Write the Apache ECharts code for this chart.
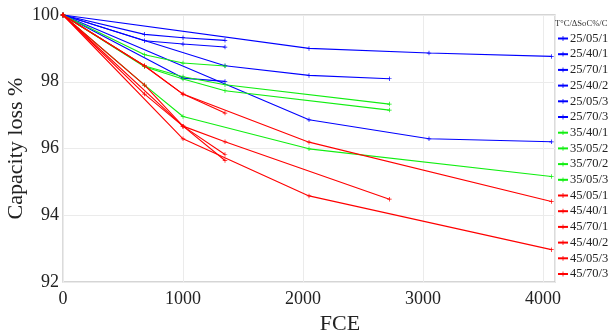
<!DOCTYPE html>
<html>
<head>
<meta charset="utf-8">
<script src="https://cdn.jsdelivr.net/npm/echarts@6/dist/echarts.min.js"></script>
<style>
  html, body { margin: 0; padding: 0; background: #fff; }
  #chart { width: 614px; height: 336px; }
</style>
</head>
<body>
<div id="chart"></div>
<script>
// Test conditions: temperature / SoC window / C-rate
const seriesNames = [
  '25/05/1', '25/40/1', '25/70/1', '25/40/2', '25/05/3', '25/70/3',
  '35/40/1', '35/05/2', '35/70/2', '35/05/3',
  '45/05/1', '45/40/1', '45/70/1', '45/40/2', '45/05/3', '45/70/3'
];
const seriesColors = [
  '#0000ff', '#0000ff', '#0000ff', '#0000ff', '#0000ff', '#0000ff',
  '#11ee11', '#11ee11', '#11ee11', '#11ee11',
  '#ff0000', '#ff0000', '#ff0000', '#ff0000', '#ff0000', '#ff0000'
];
// Full equivalent cycles at each checkup
const fcePoints = [
  [0, 2050, 3050, 4070],
  [0, 1350, 2050, 2720],
  [0, 680, 1000, 1350],
  [0, 680, 1000, 1350],
  [0, 2050, 3050, 4070],
  [0, 1000, 1350],
  [0, 680, 1000, 1350, 2720],
  [0, 680, 1000, 1350, 2720],
  [0, 680, 1000, 1350],
  [0, 680, 1000, 2050, 4070],
  [0, 680, 1000, 2050, 4070],
  [0, 680, 1000, 1350, 2720],
  [0, 680, 1000, 1350],
  [0, 680, 1000, 1350],
  [0, 1000, 2050, 4070],
  [0, 1000, 1350]
];
// Remaining capacity (%) at each checkup
const capacityValues = [
  [100, 99.0, 98.86, 98.76],
  [100, 98.48, 98.19, 98.09],
  [100, 99.42, 99.32, 99.24],
  [100, 99.23, 99.13, 99.04],
  [100, 96.86, 96.29, 96.2],
  [100, 98.11, 98.01],
  [100, 98.47, 98.15, 97.91, 97.33],
  [100, 98.45, 98.08, 97.73, 97.15],
  [100, 98.81, 98.56, 98.47],
  [100, 97.9, 96.96, 95.99, 95.16],
  [100, 98.47, 97.63, 96.19, 94.41],
  [100, 97.9, 96.67, 96.2, 94.48],
  [100, 98.48, 97.63, 97.06],
  [100, 97.63, 96.67, 95.82],
  [100, 96.29, 94.58, 92.97],
  [100, 96.67, 95.64]
];
const xTicks = [0, 1000, 2000, 3000, 4000];
const yTicks = [92, 94, 96, 98, 100];

const serif = '"Liberation Serif", "DejaVu Serif", serif';
const plusMark = 'path://M0,4.2L10,4.2L10,5.8L0,5.8Z M4.2,0L5.8,0L5.8,10L4.2,10Z';

const chart = echarts.init(document.getElementById('chart'));

const series = seriesNames.map((name, i) => ({
  name: name,
  type: 'line',
  data: fcePoints[i].map((x, k) => [x, capacityValues[i][k]]),
  color: seriesColors[i],
  lineStyle: { width: 1.1, color: seriesColors[i] },
  symbol: plusMark,
  symbolSize: 4.5,
  showAllSymbol: true,
  itemStyle: { color: seriesColors[i] },
  emphasis: { disabled: true },
  animation: false
}));

chart.setOption({
  animation: false,
  title: {
    text: 'T°C/ΔSoC%/C',
    left: 555,
    top: 19,
    padding: 0,
    textStyle: { fontFamily: serif, fontSize: 8.6, fontWeight: 'normal', color: '#333' }
  },
  grid: {
    left: 63, right: 59, top: 15, bottom: 54,
    outerBoundsMode: 'none',
    show: true, borderColor: '#c8c8c8', borderWidth: 1.3, containLabel: false
  },
  legend: {
    orient: 'vertical',
    left: 557,
    top: 32,
    itemWidth: 10,
    itemHeight: 6,
    itemGap: 2.7,
    padding: 0,
    textStyle: { fontFamily: serif, fontSize: 12.5, lineHeight: 13, color: '#222', padding: [0, 0, 0, -3] },
    data: seriesNames
  },
  xAxis: {
    type: 'value',
    min: xTicks[0],
    max: 4100,
    interval: 1000,
    name: 'FCE',
    nameLocation: 'middle',
    nameGap: 29,
    nameTextStyle: { fontFamily: serif, fontSize: 22, color: '#222', padding: [0, 0, 0, 62] },
    axisLine: { show: false },
    axisTick: { show: false },
    axisLabel: {
      fontFamily: serif, fontSize: 18, color: '#222', margin: 8,
      showMaxLabel: false,
      formatter: v => (xTicks.indexOf(v) >= 0 ? String(v) : '')
    },
    splitLine: { show: true, lineStyle: { color: '#ebebeb', width: 1 } }
  },
  yAxis: {
    type: 'value',
    min: yTicks[0],
    max: yTicks[yTicks.length - 1],
    interval: 2,
    name: 'Capacity loss %',
    nameLocation: 'middle',
    nameMoveOverlap: false,
    nameGap: 36,
    nameTextStyle: { fontFamily: serif, fontSize: 22, color: '#222' },
    axisLine: { show: false },
    axisTick: { show: false },
    axisLabel: { fontFamily: serif, fontSize: 18, color: '#222', margin: 4 },
    splitLine: { show: true, lineStyle: { color: '#ebebeb', width: 1 } }
  },
  series: series
});
</script>
</body>
</html>
